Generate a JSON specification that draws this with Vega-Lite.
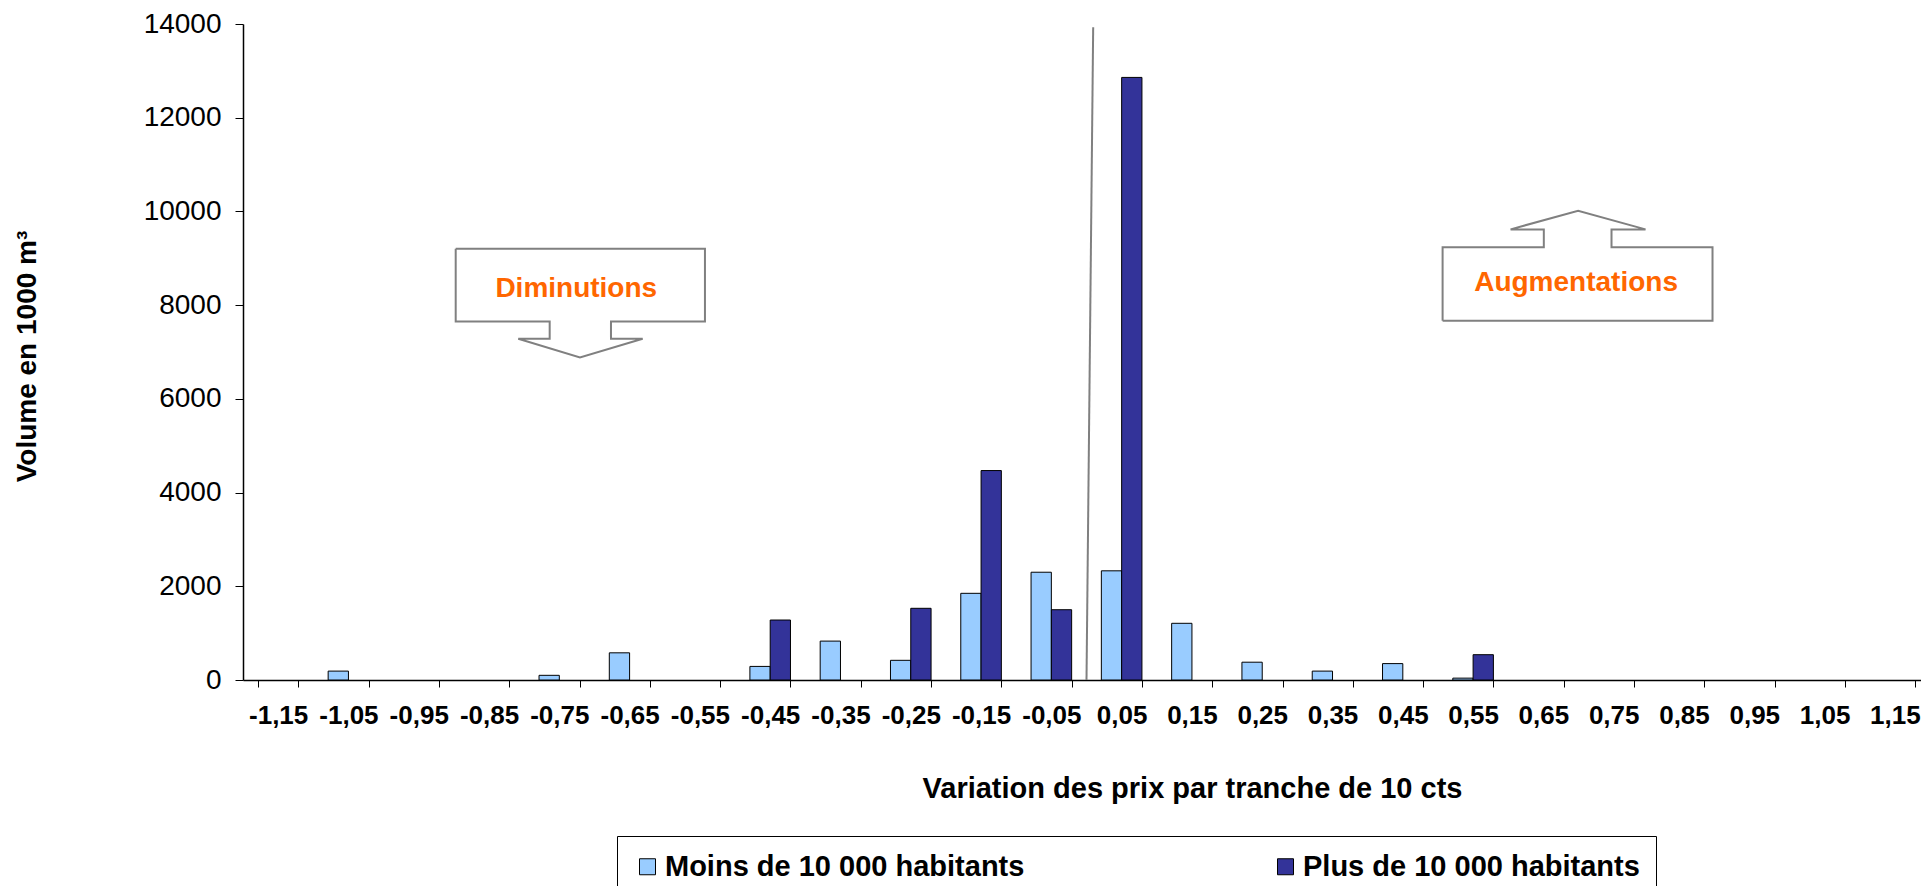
{
  "$schema": "https://vega.github.io/schema/vega-lite/v6.json",
  "width": 1687,
  "height": 656,
  "autosize": {"type": "none"},
  "padding": {"left": 243, "top": 24, "right": -9, "bottom": 206},
  "background": "white",
  "config": {
    "font": "Liberation Sans",
    "view": {"stroke": null},
    "axis": {"labelColor": "black", "titleColor": "black", "domainColor": "black", "tickColor": "black", "grid": false, "labelFont": "Liberation Sans", "titleFont": "Liberation Sans"}
  },
  "datasets": {
    "barres": [
      {"tranche": "-1,05", "serie": "Moins de 10 000 habitants", "volume": 190},
      {"tranche": "-0,75", "serie": "Moins de 10 000 habitants", "volume": 100},
      {"tranche": "-0,65", "serie": "Moins de 10 000 habitants", "volume": 580},
      {"tranche": "-0,45", "serie": "Moins de 10 000 habitants", "volume": 290},
      {"tranche": "-0,45", "serie": "Plus de 10 000 habitants", "volume": 1280},
      {"tranche": "-0,35", "serie": "Moins de 10 000 habitants", "volume": 830},
      {"tranche": "-0,25", "serie": "Moins de 10 000 habitants", "volume": 420},
      {"tranche": "-0,25", "serie": "Plus de 10 000 habitants", "volume": 1530},
      {"tranche": "-0,15", "serie": "Moins de 10 000 habitants", "volume": 1850},
      {"tranche": "-0,15", "serie": "Plus de 10 000 habitants", "volume": 4470},
      {"tranche": "-0,05", "serie": "Moins de 10 000 habitants", "volume": 2300},
      {"tranche": "-0,05", "serie": "Plus de 10 000 habitants", "volume": 1500},
      {"tranche": "0,05", "serie": "Moins de 10 000 habitants", "volume": 2330},
      {"tranche": "0,05", "serie": "Plus de 10 000 habitants", "volume": 12860},
      {"tranche": "0,15", "serie": "Moins de 10 000 habitants", "volume": 1210},
      {"tranche": "0,25", "serie": "Moins de 10 000 habitants", "volume": 380},
      {"tranche": "0,35", "serie": "Moins de 10 000 habitants", "volume": 190},
      {"tranche": "0,45", "serie": "Moins de 10 000 habitants", "volume": 350},
      {"tranche": "0,55", "serie": "Moins de 10 000 habitants", "volume": 40},
      {"tranche": "0,55", "serie": "Plus de 10 000 habitants", "volume": 540}
    ],
    "formes": [
      {"forme": "séparation", "ordre": 1, "variation": 0.0, "volume": 0},
      {"forme": "séparation", "ordre": 2, "variation": 0.0095, "volume": 13930},
      {"forme": "Diminutions", "ordre": 1, "variation": -0.8974, "volume": 9205},
      {"forme": "Diminutions", "ordre": 2, "variation": -0.5428, "volume": 9205},
      {"forme": "Diminutions", "ordre": 3, "variation": -0.5428, "volume": 7652},
      {"forme": "Diminutions", "ordre": 4, "variation": -0.6765, "volume": 7652},
      {"forme": "Diminutions", "ordre": 5, "variation": -0.6765, "volume": 7283},
      {"forme": "Diminutions", "ordre": 6, "variation": -0.6314, "volume": 7283},
      {"forme": "Diminutions", "ordre": 7, "variation": -0.7206, "volume": 6883},
      {"forme": "Diminutions", "ordre": 8, "variation": -0.8084, "volume": 7283},
      {"forme": "Diminutions", "ordre": 9, "variation": -0.7637, "volume": 7283},
      {"forme": "Diminutions", "ordre": 10, "variation": -0.7637, "volume": 7652},
      {"forme": "Diminutions", "ordre": 11, "variation": -0.8974, "volume": 7652},
      {"forme": "Diminutions", "ordre": 12, "variation": -0.8974, "volume": 9205},
      {"forme": "Augmentations", "ordre": 1, "variation": 0.5066, "volume": 7667},
      {"forme": "Augmentations", "ordre": 2, "variation": 0.5066, "volume": 9233},
      {"forme": "Augmentations", "ordre": 3, "variation": 0.6506, "volume": 9233},
      {"forme": "Augmentations", "ordre": 4, "variation": 0.6506, "volume": 9617},
      {"forme": "Augmentations", "ordre": 5, "variation": 0.6033, "volume": 9617},
      {"forme": "Augmentations", "ordre": 6, "variation": 0.6994, "volume": 10016},
      {"forme": "Augmentations", "ordre": 7, "variation": 0.7953, "volume": 9617},
      {"forme": "Augmentations", "ordre": 8, "variation": 0.7469, "volume": 9617},
      {"forme": "Augmentations", "ordre": 9, "variation": 0.7469, "volume": 9233},
      {"forme": "Augmentations", "ordre": 10, "variation": 0.8906, "volume": 9233},
      {"forme": "Augmentations", "ordre": 11, "variation": 0.8906, "volume": 7667},
      {"forme": "Augmentations", "ordre": 12, "variation": 0.5066, "volume": 7667}
    ],
    "textes": [
      {"texte": "Diminutions", "variation": -0.7259, "volume": 8351},
      {"texte": "Augmentations", "variation": 0.6965, "volume": 8472}
    ]
  },
  "layer": [
    {
      "data": {"name": "barres"},
      "mark": {"type": "bar", "stroke": "black", "strokeWidth": 1},
      "encoding": {
        "x": {
          "field": "tranche", "type": "nominal",
          "scale": {"domain": ["-1,15","-1,05","-0,95","-0,85","-0,75","-0,65","-0,55","-0,45","-0,35","-0,25","-0,15","-0,05","0,05","0,15","0,25","0,35","0,45","0,55","0,65","0,75","0,85","0,95","1,05","1,15"], "paddingInner": 0.4225, "paddingOuter": 0.21125},
          "axis": {"title": "Variation des prix par tranche de 10 cts", "labelAngle": 0, "labelFontWeight": "bold", "labelFontSize": 26, "labelPadding": 15, "tickSize": 7, "tickBand": "extent", "domainWidth": 1.5, "tickWidth": 1, "titleFontSize": 29, "titleFontWeight": "bold", "titleX": 949, "titleY": 108, "titleBaseline": "middle", "titleAlign": "center", "labelOverlap": false}
        },
        "xOffset": {"field": "serie", "type": "nominal", "scale": {"domain": ["Moins de 10 000 habitants", "Plus de 10 000 habitants"]}},
        "y": {
          "field": "volume", "type": "quantitative",
          "scale": {"domain": [0, 14000], "nice": false},
          "axis": {"title": "Volume en 1000 m³", "values": [0,2000,4000,6000,8000,10000,12000,14000], "format": "d", "labelFontSize": 28, "labelPadding": 14, "tickSize": 8, "domainWidth": 1.5, "titleFontSize": 28, "titleFontWeight": "bold", "titleAngle": -90, "titleX": -216, "titleY": 332, "titleBaseline": "middle", "titleAlign": "center"}
        },
        "color": {
          "field": "serie", "type": "nominal",
          "scale": {"domain": ["Moins de 10 000 habitants", "Plus de 10 000 habitants"], "range": ["#99CCFF", "#333399"]},
          "legend": {"orient": "none", "legendX": 374, "legendY": 812, "direction": "horizontal", "columns": 2, "title": null, "labelFont": "Liberation Sans", "labelFontWeight": "bold", "labelFontSize": 29, "labelColor": "black", "labelLimit": 600, "labelOffset": 3, "symbolType": "square", "symbolSize": 256, "symbolStrokeColor": "black", "symbolStrokeWidth": 1, "symbolOpacity": 1, "strokeColor": "black", "padding": 16, "columnPadding": 246}
        }
      }
    },
    {
      "layer": [
        {
          "mark": {"type": "rule", "color": "black", "strokeWidth": 1.5},
          "encoding": {"y": {"datum": 14000, "type": "quantitative", "scale": {"domain": [0, 14000], "nice": false}}}
        },
        {
          "data": {"name": "formes"},
          "mark": {"type": "line", "color": "#808080", "strokeWidth": 2},
          "encoding": {
            "x": {"field": "variation", "type": "quantitative", "scale": {"domain": [-1.2, 1.2], "nice": false, "zero": false}, "axis": null},
            "y": {"field": "volume", "type": "quantitative", "scale": {"domain": [0, 14000], "nice": false}},
            "detail": {"field": "forme", "type": "nominal"},
            "order": {"field": "ordre", "type": "quantitative"}
          }
        },
        {
          "data": {"name": "textes"},
          "mark": {"type": "text", "color": "#FF6600", "font": "Liberation Sans", "fontWeight": "bold", "fontSize": 28, "align": "center", "baseline": "middle"},
          "encoding": {
            "x": {"field": "variation", "type": "quantitative", "scale": {"domain": [-1.2, 1.2], "nice": false, "zero": false}, "axis": null},
            "y": {"field": "volume", "type": "quantitative", "scale": {"domain": [0, 14000], "nice": false}},
            "text": {"field": "texte", "type": "nominal"}
          }
        }
      ]
    }
  ],
  "resolve": {"scale": {"x": "independent"}, "axis": {"x": "independent"}}
}
